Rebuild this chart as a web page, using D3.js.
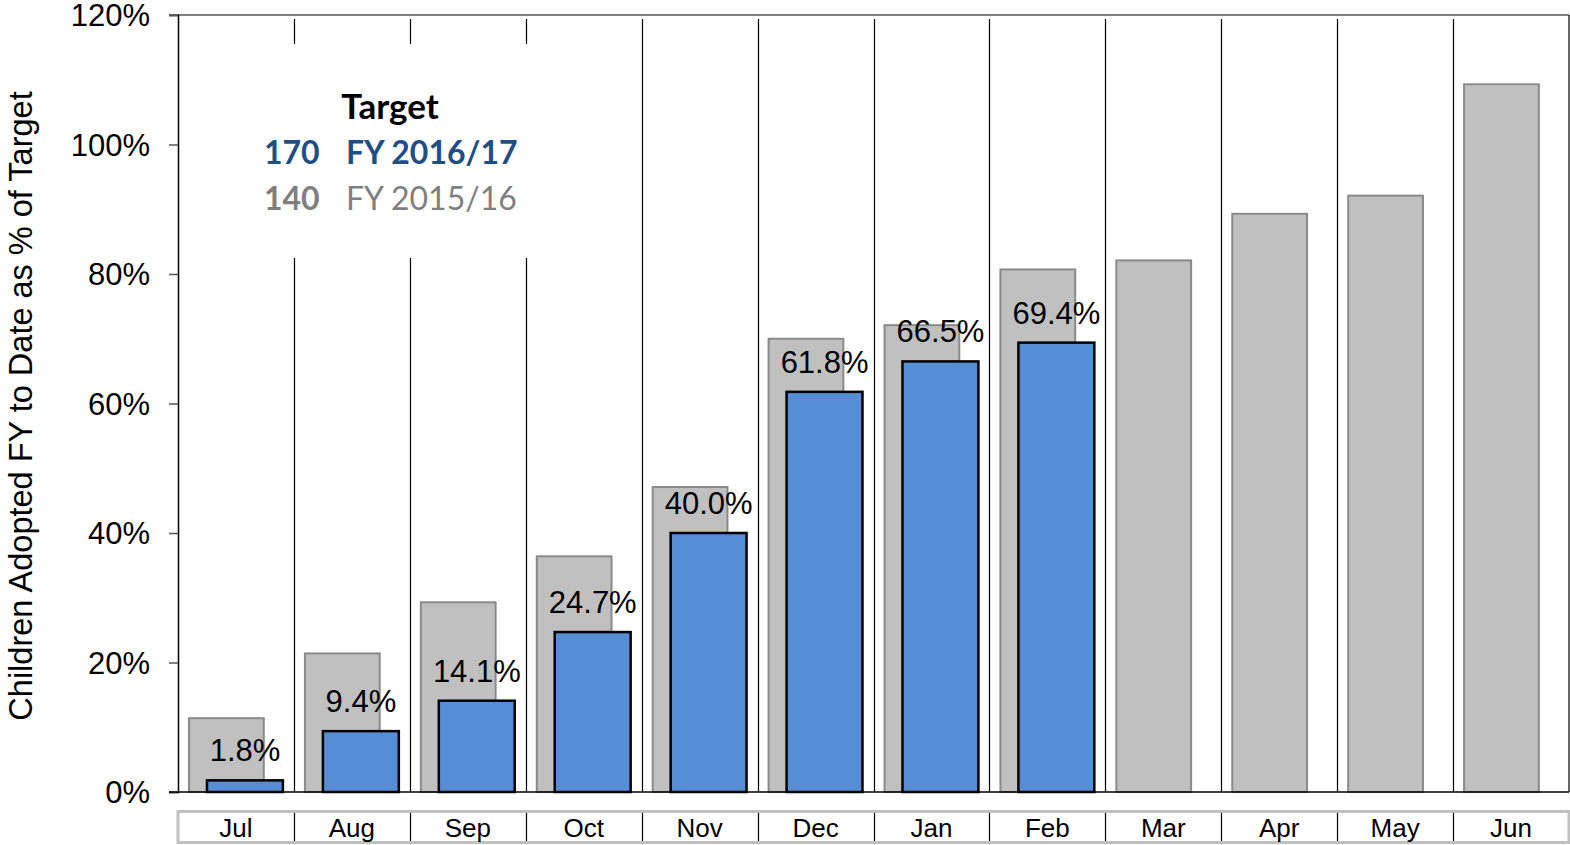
<!DOCTYPE html>
<html>
<head>
<meta charset="utf-8">
<script src="https://cdn.jsdelivr.net/npm/d3@7"></script>
<style>
  body { margin: 0; background: #fff; }
  text { font-family: Arial, "Liberation Sans", sans-serif; }
</style>
</head>
<body>
<div id="root"></div>
<script>
// Data
const months = ['Jul', 'Aug', 'Sep', 'Oct', 'Nov', 'Dec', 'Jan', 'Feb', 'Mar', 'Apr', 'May', 'Jun'];
const prevYear = [11.4, 21.4, 29.3, 36.4, 47.1, 70.0, 72.1, 80.7, 82.1, 89.3, 92.1, 109.3];
const thisYear = [1.8, 9.4, 14.1, 24.7, 40.0, 61.8, 66.5, 69.4];
const yTicks = [0, 20, 40, 60, 80, 100, 120];

// Variables
const width = 1570;
const height = 845;
const plotLeft = 178;
const plotRight = 1569;
const plotTop = 15;
const plotBottom = 792;

const chart = d3.select('#root')
  .append('svg')
  .attr('width', width)
  .attr('height', height);

const x = d3.scaleBand()
  .domain(months)
  .range([plotLeft, plotRight])
  .padding(0);

const y = d3.scaleLinear()
  .domain([0, 120])
  .range([plotBottom, plotTop]);

const bw = x.bandwidth();

// Category dividers
chart.append('g')
  .selectAll('line')
  .data(months.slice(1))
  .enter()
    .append('line')
    .attr('x1', d => Math.round(x(d)) + 0.5)
    .attr('x2', d => Math.round(x(d)) + 0.5)
    .attr('y1', y(120) + 4)
    .attr('y2', plotBottom)
    .attr('stroke', '#000')
    .attr('stroke-width', 1.2);

// Legend backdrop (covers the dividers)
chart.append('rect')
  .attr('x', plotLeft + 2)
  .attr('y', 44)
  .attr('width', 420)
  .attr('height', 214)
  .attr('fill', '#fff');

// Previous year bars
chart.append('g')
  .selectAll('rect')
  .data(prevYear)
  .enter()
    .append('rect')
    .attr('x', (d, i) => x(months[i]) + bw * 0.095)
    .attr('y', d => y(d))
    .attr('width', bw * 0.645)
    .attr('height', d => plotBottom - y(d))
    .attr('fill', '#c0c0c0')
    .attr('stroke', '#8a8a8a')
    .attr('stroke-width', 2);

// Current year bars
chart.append('g')
  .selectAll('rect')
  .data(thisYear)
  .enter()
    .append('rect')
    .attr('x', (d, i) => x(months[i]) + bw * 0.25)
    .attr('y', d => y(d))
    .attr('width', bw * 0.655)
    .attr('height', d => plotBottom - y(d))
    .attr('fill', '#558ed5')
    .attr('stroke', '#000')
    .attr('stroke-width', 2.5);

// Value labels
chart.append('g')
  .selectAll('text')
  .data(thisYear)
  .enter()
    .append('text')
    .attr('x', (d, i) => x(months[i]) + bw * 0.578)
    .attr('y', d => y(d) - 19)
    .attr('text-anchor', 'middle')
    .style('font-size', '31px')
    .attr('fill', '#000')
    .text(d => d.toFixed(1) + '%');

// Frame: top, right, left axis, bottom axis
chart.append('line')
  .attr('x1', plotLeft - 9).attr('x2', plotRight)
  .attr('y1', y(120)).attr('y2', y(120))
  .attr('stroke', '#555').attr('stroke-width', 1.5);
chart.append('line')
  .attr('x1', plotRight).attr('x2', plotRight)
  .attr('y1', y(120)).attr('y2', plotBottom)
  .attr('stroke', '#333').attr('stroke-width', 1.5);

const yAxis = chart.append('g')
  .attr('transform', `translate(${plotLeft},0)`)
  .call(d3.axisLeft(y).tickValues(yTicks).tickSize(9).tickFormat(d => d + '%'));
yAxis.select('.domain').attr('stroke', '#000').attr('stroke-width', 1.5);
yAxis.selectAll('.tick line').attr('stroke', '#555').attr('stroke-width', 1.5);
yAxis.selectAll('.tick text')
  .attr('x', -28)
  .attr('dy', '0.35em')
  .attr('fill', '#000')
  .style('font-size', '31px')
  .style('font-family', 'Arial, "Liberation Sans", sans-serif');

chart.append('line')
  .attr('x1', plotLeft - 9).attr('x2', plotRight)
  .attr('y1', plotBottom).attr('y2', plotBottom)
  .attr('stroke', '#000').attr('stroke-width', 1.5);

// Y axis title
chart.append('text')
  .attr('transform', 'translate(32,406) rotate(-90)')
  .attr('text-anchor', 'middle')
  .style('font-size', '32.5px')
  .attr('fill', '#000')
  .text('Children Adopted FY to Date as % of Target');

// Category label box
const boxTop = 811.5;
const boxBottom = 842.5;
chart.append('rect')
  .attr('x', plotLeft)
  .attr('y', boxTop)
  .attr('width', plotRight - plotLeft)
  .attr('height', boxBottom - boxTop)
  .attr('fill', '#fff')
  .attr('stroke', '#c0c0c0')
  .attr('stroke-width', 3);

chart.append('g')
  .selectAll('line')
  .data(months.slice(1))
  .enter()
    .append('line')
    .attr('x1', d => Math.round(x(d)) + 0.5)
    .attr('x2', d => Math.round(x(d)) + 0.5)
    .attr('y1', boxTop + 1.5)
    .attr('y2', boxBottom - 1.5)
    .attr('stroke', '#000')
    .attr('stroke-width', 1.2);

chart.append('g')
  .selectAll('text')
  .data(months)
  .enter()
    .append('text')
    .attr('x', d => x(d) + bw / 2)
    .attr('y', 837)
    .attr('text-anchor', 'middle')
    .style('font-size', '26px')
    .attr('fill', '#000')
    .text(d => d);

// Legend
const legendFont = 'Lato, "Open Sans", sans-serif';
chart.append('text')
  .attr('x', 390).attr('y', 119)
  .attr('text-anchor', 'middle')
  .style('font-family', legendFont)
  .style('font-size', '35px')
  .style('font-weight', 'bold')
  .attr('fill', '#000')
  .text('Target');

const legendRows = [
  { target: '170', label: 'FY 2016/17', color: '#1f4e84', weight: 'bold', yPos: 164 },
  { target: '140', label: 'FY 2015/16', color: '#7f7f7f', weight: 'normal', yPos: 210 }
];

legendRows.forEach(row => {
  chart.append('text')
    .attr('x', 264).attr('y', row.yPos)
    .style('font-family', legendFont)
    .style('font-size', '32px')
    .style('font-weight', 'bold')
    .attr('fill', row.color)
    .text(row.target);
  chart.append('text')
    .attr('x', 346).attr('y', row.yPos)
    .style('font-family', legendFont)
    .style('font-size', '32px')
    .style('font-weight', row.weight)
    .attr('fill', row.color)
    .text(row.label);
});
</script>
</body>
</html>
